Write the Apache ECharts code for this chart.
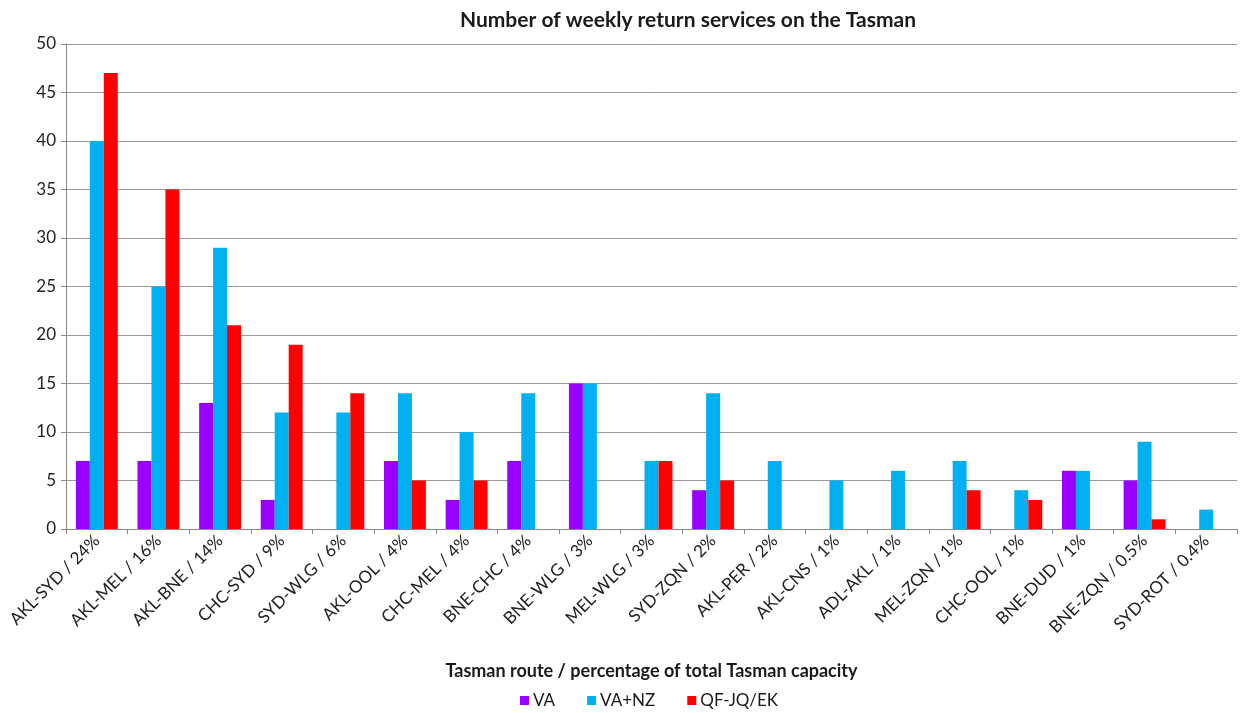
<!DOCTYPE html>
<html><head><meta charset="utf-8">
<script src="https://cdn.jsdelivr.net/npm/echarts@6/dist/echarts.min.js"></script>
<style>html,body{margin:0;padding:0;background:#fff}#c{width:1242px;height:713px}</style>
</head><body><div id="c"></div>
<script>
var categories = ["AKL-SYD / 24%","AKL-MEL / 16%","AKL-BNE / 14%","CHC-SYD / 9%","SYD-WLG / 6%","AKL-OOL / 4%","CHC-MEL / 4%","BNE-CHC / 4%","BNE-WLG / 3%","MEL-WLG / 3%","SYD-ZQN / 2%","AKL-PER / 2%","AKL-CNS / 1%","ADL-AKL / 1%","MEL-ZQN / 1%","CHC-OOL / 1%","BNE-DUD / 1%","BNE-ZQN / 0.5%","SYD-ROT / 0.4%"];
var va    = [7,7,13,3,null,7,3,7,15,null,4,null,null,null,null,null,6,5,null];
var vanz  = [40,25,29,12,12,14,10,14,15,7,14,7,5,6,7,4,6,9,2];
var qf    = [47,35,21,19,14,5,5,null,null,7,5,null,null,null,4,3,null,1,null];
var yTicks = [0,5,10,15,20,25,30,35,40,45,50];
var font = "Lato, 'Open Sans', sans-serif";
var chart = echarts.init(document.getElementById('c'));
chart.setOption({
  animation:false,
  title:{text:"Number of weekly return services on the Tasman",left:683,top:5,textAlign:'center',
    textStyle:{fontFamily:font,fontSize:21,fontWeight:'bold',color:'#1a1a1a'}},
  legend:{top:692,left:520,itemWidth:9,itemHeight:9,itemGap:32,icon:'rect',padding:0,
    textStyle:{fontFamily:font,fontSize:17,color:'#1a1a1a',padding:[0,0,0,-1]},
    data:['VA','VA+NZ','QF-JQ/EK']},
  grid:{left:66,right:5,top:44,bottom:184},
  xAxis:{type:'category',data:categories,
    name:"Tasman route / percentage of total Tasman capacity",nameLocation:'middle',nameGap:133,
    nameTextStyle:{fontFamily:font,fontSize:18,fontWeight:'bold',color:'#1a1a1a'},
    axisLine:{lineStyle:{color:'#888'}},
    axisTick:{show:true,length:5,lineStyle:{color:'#888'}},
    axisLabel:{rotate:45,interval:0,fontFamily:font,fontSize:17,color:'#222',margin:9}},
  yAxis:{type:'value',min:0,max:50,interval:5,
    axisLine:{show:true,lineStyle:{color:'#888'}},
    axisTick:{show:true,length:5,lineStyle:{color:'#888'}},
    splitLine:{lineStyle:{color:'#999'}},
    axisLabel:{fontFamily:font,fontSize:17,color:'#222',margin:10,
      formatter:function(v){return yTicks.indexOf(v)>=0?String(v):'';}}},
  series:[
    {name:'VA',type:'bar',data:va,itemStyle:{color:'#9900FF'},barGap:'0%',barCategoryGap:'32%'},
    {name:'VA+NZ',type:'bar',data:vanz,itemStyle:{color:'#00B0F0'},barGap:'0%',barCategoryGap:'32%'},
    {name:'QF-JQ/EK',type:'bar',data:qf,itemStyle:{color:'#FF0000'},barGap:'0%',barCategoryGap:'32%'}
  ]
});
</script></body></html>
